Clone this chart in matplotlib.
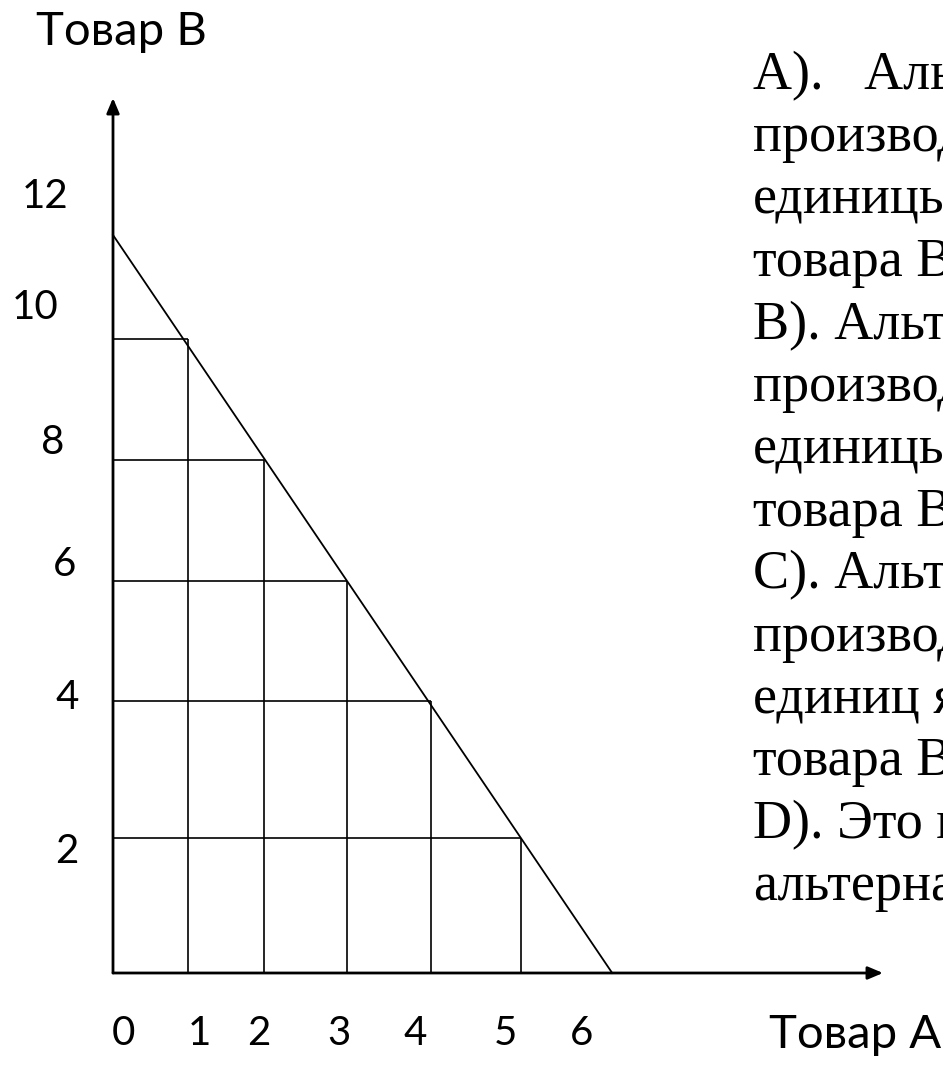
import matplotlib
matplotlib.use("Agg")
import matplotlib.pyplot as plt

# staircase under the production possibility line
step_a = [0.94, 1.89, 2.93, 3.98, 5.10]     # vertical lines, good A
step_b = [10.0, 8.09, 6.18, 4.29, 2.13]     # horizontal lines, good B
ppf_a = [0.0, 6.24]
ppf_b = [11.64, 0.0]

x_labels = ["0", "1", "2", "3", "4", "5", "6"]
x_label_pos = [0.125, 1.075, 1.825, 2.825, 3.775, 4.91, 5.86]
y_labels = ["12", "10", "8", "6", "4", "2"]
y_label_pos = [12.24, 10.5, 8.36, 6.44, 4.35, 1.92]
y_label_x = [-0.85, -0.975, -0.76, -0.6, -0.575, -0.575]

text_lines = [
    "А).   Альтернативная",
    "производства",
    "единицы",
    "товара В",
    "В). Альтернативная",
    "производства",
    "единицы",
    "товара В",
    "С). Альтернативная",
    "производства",
    "единиц является",
    "товара В",
    "D). Это показатель",
    "альтернативной",
]

sans = ["Lato", "DejaVu Sans"]
serif = ["Liberation Serif", "DejaVu Serif"]

fig = plt.figure(figsize=(9.43, 10.66), dpi=100)
ax = fig.add_axes([0, 0, 1, 1])
ax.axis("off")
sx, sy = 80.0, 63.4   # pixels per unit
ax.set_xlim(-113 / sx, (943 - 113) / sx)
ax.set_ylim(-(1066 - 973) / sy, 973 / sy)

# axes with arrows
arr = dict(arrowstyle="-|>,head_length=0.9,head_width=0.38", lw=2.0,
           color="black", mutation_scale=10, shrinkA=0, shrinkB=0)
ax.annotate("", xy=(0, (973 - 98) / sy), xytext=(0, 0), arrowprops=arr)
ax.annotate("", xy=((883 - 113) / sx, 0), xytext=(0, 0), arrowprops=arr)

# grid cells
for a, b in zip(step_a, step_b):
    ax.plot([0, a], [b, b], color="black", lw=1.2, solid_capstyle="butt")
    ax.plot([a, a], [0, b], color="black", lw=1.2, solid_capstyle="butt")

ax.plot(ppf_a, ppf_b, color="black", lw=1.3)

for lab, xp in zip(x_labels, x_label_pos):
    ax.text(xp, -0.95, lab, family=sans, fontsize=29, ha="center", va="center")
for lab, yp, xp in zip(y_labels, y_label_pos, y_label_x):
    ax.text(xp, yp, lab, family=sans, fontsize=29, ha="center", va="center")

ax.text(0.11, 14.84, "Товар В", family=sans, fontsize=34, ha="center", va="center")
ax.text((941 - 113) / sx, -0.98, "Товар А", family=sans, fontsize=34,
        ha="right", va="center")

# question text on the right (runs off the slide edge)
for i, line in enumerate(text_lines):
    ax.text((753 - 113) / sx, (973 - 89 - 62.4 * i) / sy, line, family=serif,
            fontsize=39, ha="left", va="baseline")

fig.savefig("out.png", dpi=100)
